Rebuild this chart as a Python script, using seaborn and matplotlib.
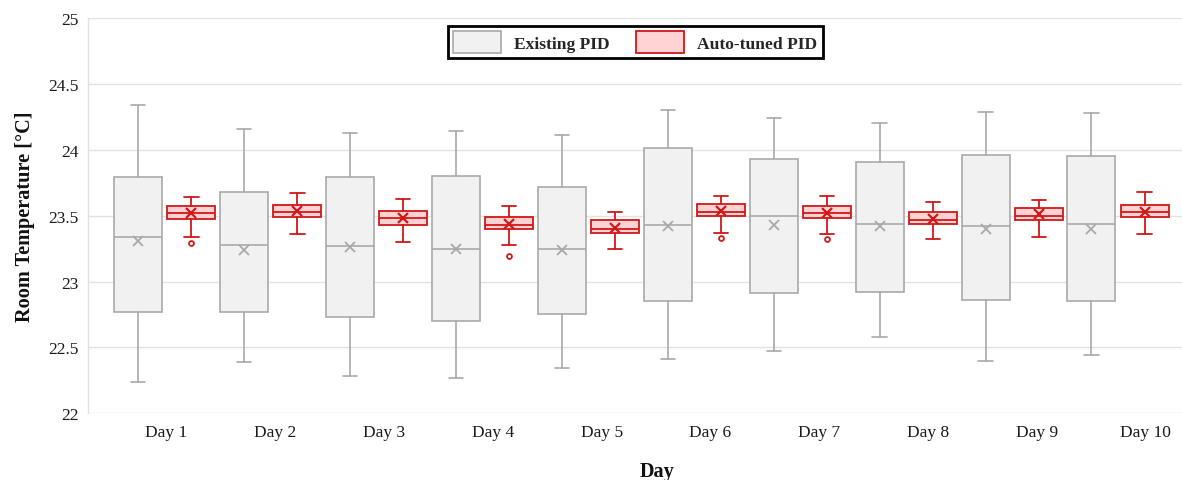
import numpy as np
import matplotlib
matplotlib.use("Agg")
import matplotlib.pyplot as plt
from matplotlib.patches import Patch
import seaborn as sns

# Werte (Whisker unten, Q1, Median, Q3, Whisker oben, Mittelwert)
days = ['Day 1', 'Day 2', 'Day 3', 'Day 4', 'Day 5', 'Day 6', 'Day 7', 'Day 8', 'Day 9', 'Day 10']

ex_low = [22.24, 22.39, 22.28, 22.27, 22.34, 22.41, 22.47, 22.58, 22.40, 22.44]
ex_q1 = [22.77, 22.77, 22.73, 22.70, 22.75, 22.85, 22.91, 22.92, 22.86, 22.85]
ex_med = [23.34, 23.28, 23.27, 23.25, 23.25, 23.43, 23.50, 23.44, 23.42, 23.44]
ex_q3 = [23.79, 23.68, 23.79, 23.80, 23.72, 24.01, 23.93, 23.91, 23.96, 23.95]
ex_high = [24.34, 24.16, 24.13, 24.14, 24.11, 24.30, 24.24, 24.20, 24.29, 24.28]
ex_mean = [23.31, 23.24, 23.26, 23.25, 23.24, 23.42, 23.43, 23.42, 23.40, 23.40]

at_low = [23.34, 23.36, 23.30, 23.28, 23.25, 23.37, 23.36, 23.32, 23.34, 23.36]
at_q1 = [23.475, 23.49, 23.43, 23.395, 23.37, 23.50, 23.48, 23.435, 23.47, 23.49]
at_med = [23.52, 23.53, 23.48, 23.43, 23.40, 23.53, 23.52, 23.465, 23.50, 23.53]
at_q3 = [23.57, 23.58, 23.535, 23.49, 23.465, 23.585, 23.575, 23.53, 23.56, 23.58]
at_high = [23.64, 23.67, 23.63, 23.57, 23.53, 23.65, 23.65, 23.60, 23.62, 23.68]
at_mean = [23.52, 23.535, 23.48, 23.435, 23.41, 23.535, 23.52, 23.475, 23.51, 23.53]
at_fliers = [[23.29], [], [], [23.19], [], [23.33], [23.32], [], [], []]

ex_color = '#a9a9a9'
ex_fill = '#f1f1f1'
at_color = '#d01818'
at_fill = '#ffd3d3'

sns.set_theme(style='white')
plt.rcParams['font.family'] = ['Liberation Serif', 'DejaVu Serif']


def make_stats(low, q1, med, q3, high, mean, fliers=None):
    stats = []
    for i in range(len(low)):
        stats.append({'whislo': low[i], 'q1': q1[i], 'med': med[i], 'q3': q3[i],
                      'whishi': high[i], 'mean': mean[i],
                      'fliers': fliers[i] if fliers else []})
    return stats


fig = plt.figure(figsize=(11.82, 4.81), dpi=100)
ax = fig.add_axes([88 / 1182, 1 - 414.3 / 481, 1 - 88 / 1182, (414.3 - 19) / 481])

pos = np.arange(len(days))
w = 0.453
off = 0.251
cw = 0.135

ax.bxp(make_stats(ex_low, ex_q1, ex_med, ex_q3, ex_high, ex_mean),
       positions=pos - off, widths=w, capwidths=cw, patch_artist=True, showmeans=True,
       boxprops=dict(facecolor=ex_fill, edgecolor=ex_color, linewidth=1.2),
       medianprops=dict(color=ex_color, linewidth=1.2),
       whiskerprops=dict(color=ex_color, linewidth=1.2),
       capprops=dict(color=ex_color, linewidth=1.2),
       meanprops=dict(marker='x', markeredgecolor=ex_color, markersize=7, markeredgewidth=1.3),
       manage_ticks=False, zorder=3)

ax.bxp(make_stats(at_low, at_q1, at_med, at_q3, at_high, at_mean, at_fliers),
       positions=pos + off, widths=w, capwidths=cw, patch_artist=True, showmeans=True,
       boxprops=dict(facecolor=at_fill, edgecolor=at_color, linewidth=1.3),
       medianprops=dict(color=at_color, linewidth=1.3),
       whiskerprops=dict(color=at_color, linewidth=1.3),
       capprops=dict(color=at_color, linewidth=1.3),
       meanprops=dict(marker='x', markeredgecolor=at_color, markersize=7, markeredgewidth=1.6),
       flierprops=dict(marker='o', markerfacecolor='none', markeredgecolor=at_color,
                       markersize=3.5, markeredgewidth=1.3),
       manage_ticks=False, zorder=3)

ax.set_xlim(-0.726, 9.604)
ax.set_ylim(22, 25)
ax.set_yticks(np.arange(22, 25.01, 0.5))
ax.set_yticklabels(['22', '22.5', '23', '23.5', '24', '24.5', '25'])
ax.set_xticks(0.015 + 1.0274 * pos)
ax.set_xticklabels(days)
ax.tick_params(axis='both', length=0, labelsize=12.5, colors='#1a1a1a')
ax.tick_params(axis='y', pad=6.5)
ax.tick_params(axis='x', pad=8)
ax.yaxis.grid(True, color='#e2e2e2', linewidth=1.0, zorder=0)
ax.set_axisbelow(True)

sns.despine(ax=ax, top=True, right=True, bottom=True, left=False)
ax.spines['left'].set_color('#e2e2e2')
ax.spines['left'].set_linewidth(1.0)

ax.set_ylabel('Room Temperature [°C]', fontsize=14.6, fontweight='bold', color='#111111', labelpad=10)
fig.text(657 / 1182, 1 - 472 / 481, 'Day', fontsize=14.6, fontweight='bold', color='#111111',
         ha='center', va='center')

handles = [Patch(facecolor=ex_fill, edgecolor=ex_color, linewidth=1.2, label='Existing PID'),
           Patch(facecolor=at_fill, edgecolor=at_color, linewidth=1.3, label='Auto-tuned PID')]
leg = ax.legend(handles=handles, loc='upper center', bbox_to_anchor=(0.5, 0.98), ncol=2,
                prop={'size': 12.6, 'weight': 'bold'}, handlelength=2.75, handleheight=1.5,
                handletextpad=0.75, columnspacing=1.5, borderpad=0.3, borderaxespad=0,
                fancybox=False, framealpha=1)
leg.get_frame().set_edgecolor('black')
leg.get_frame().set_linewidth(2.0)

plt.savefig('out.png', dpi=100)
